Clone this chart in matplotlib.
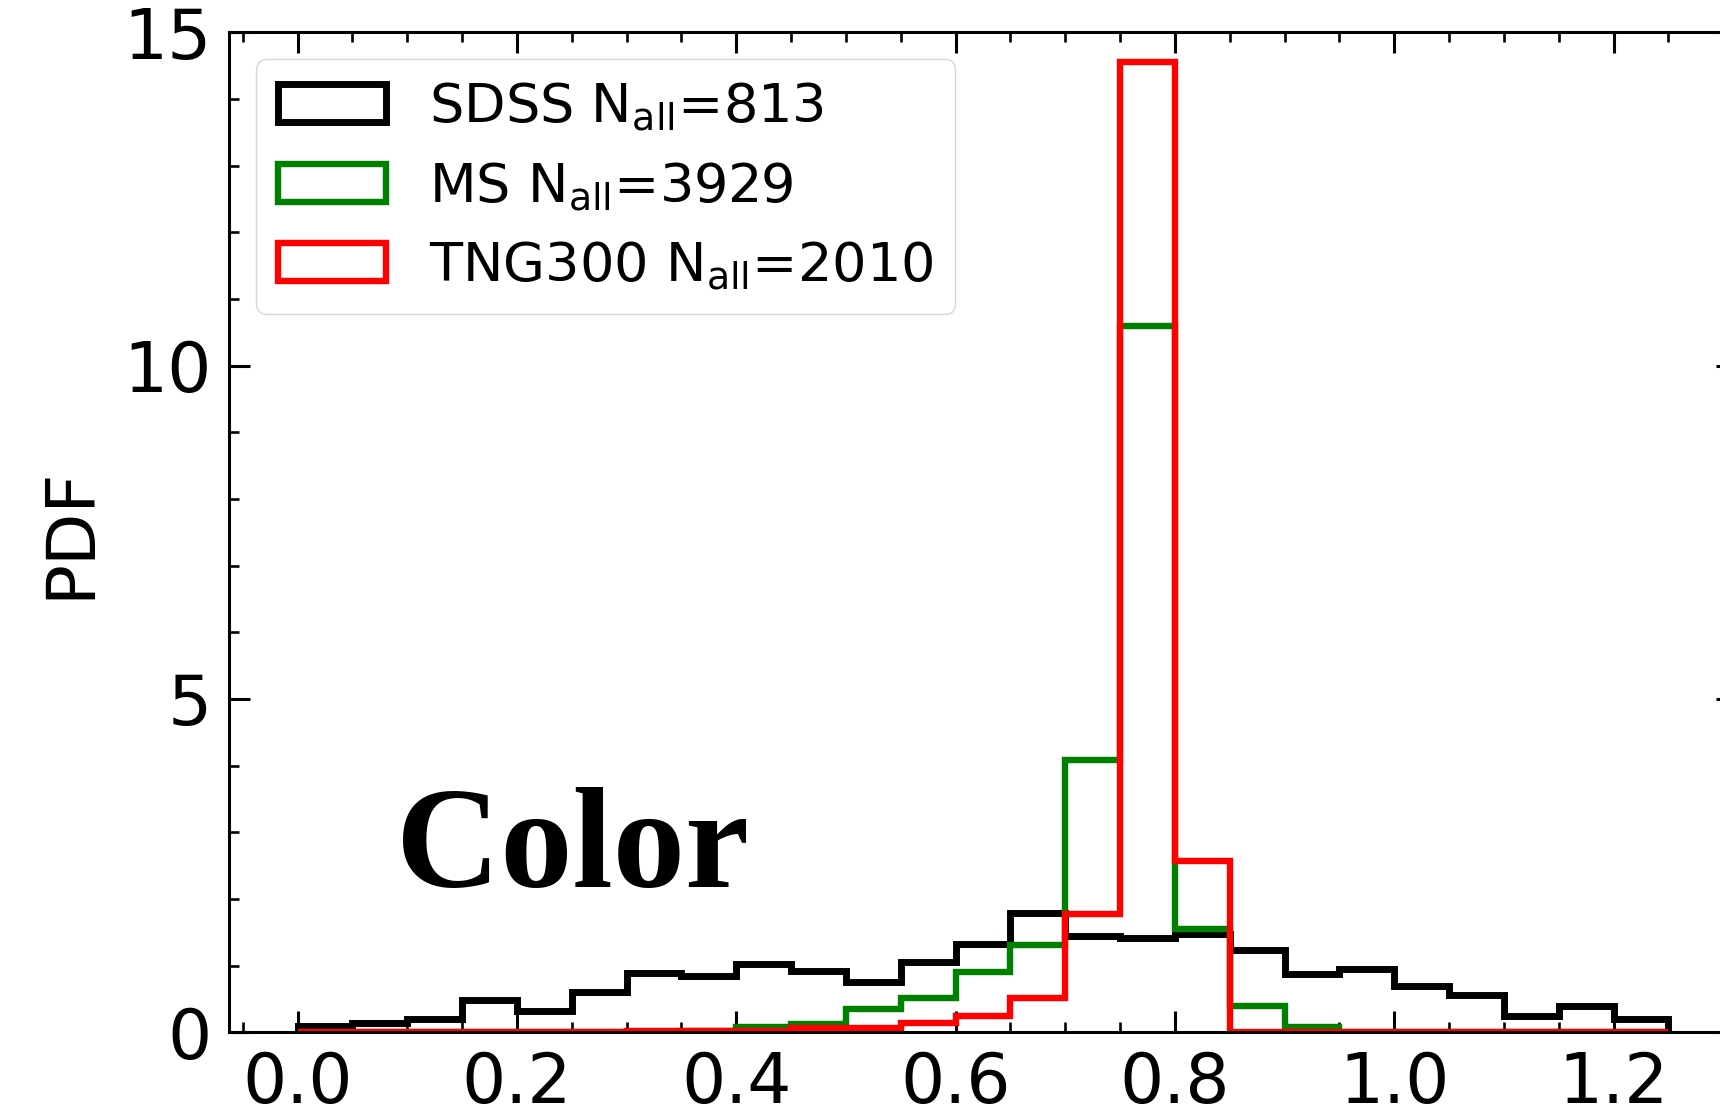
import numpy as np
import matplotlib
matplotlib.use("Agg")
import matplotlib.pyplot as plt
from matplotlib.ticker import MultipleLocator

# ---- data (PDF values per bin, bins of width 0.05 from 0.0 to 1.25) ----
bin_edges = np.linspace(0.0, 1.25, 26)
bin_centers = 0.5 * (bin_edges[:-1] + bin_edges[1:])

sdss_pdf = [0.09, 0.14, 0.20, 0.49, 0.32, 0.61, 0.89, 0.84, 1.02, 0.92,
            0.76, 1.06, 1.33, 1.79, 1.44, 1.42, 1.47, 1.24, 0.87, 0.95,
            0.70, 0.56, 0.24, 0.40, 0.20]
ms_pdf = [0.0, 0.0, 0.0, 0.0, 0.0, 0.005, 0.01, 0.015, 0.075, 0.125,
          0.355, 0.51, 0.905, 1.31, 4.09, 10.60, 1.545, 0.395, 0.075, 0.01,
          0.0, 0.0, 0.0, 0.0, 0.0]
tng_pdf = [0.0, 0.0, 0.0, 0.0, 0.0, 0.0, 0.025, 0.025, 0.025, 0.065,
           0.065, 0.135, 0.245, 0.515, 1.78, 14.55, 2.57, 0.0, 0.0, 0.0,
           0.0, 0.0, 0.0, 0.0, 0.0]

labels = [r'SDSS N$_{\rm all}$=813', r'MS N$_{\rm all}$=3929',
          r'TNG300 N$_{\rm all}$=2010']
colors = ['black', 'green', 'red']
x_ticks = [0.0, 0.2, 0.4, 0.6, 0.8, 1.0, 1.2]
y_ticks = [0, 5, 10, 15]
panel_label = 'Color'

plt.rcParams['font.family'] = ['DejaVu Sans']
plt.rcParams['mathtext.fontset'] = 'dejavusans'

W, H = 1720, 1119
fig = plt.figure(figsize=(W / 100, H / 100), dpi=100)
ax = fig.add_axes([229 / W, 1 - 1032.3 / H, 1508 / W, 1000 / H])

series = [sdss_pdf, ms_pdf, tng_pdf]
lws = [5.0, 4.6, 4.6]
for vals, lab, col, lw in zip(series, labels, colors, lws):
    ax.hist(bin_centers, bins=bin_edges, weights=vals, histtype='step',
            color=col, lw=lw, label=lab)

ax.set_xlim(-0.0625, 1.3125)
ax.set_ylim(0, 15)
ax.set_xticks(x_ticks)
ax.set_xticklabels([f'{t:.1f}' for t in x_ticks])
ax.set_yticks(y_ticks)
ax.xaxis.set_minor_locator(MultipleLocator(0.05))
ax.yaxis.set_minor_locator(MultipleLocator(1))

for s in ax.spines.values():
    s.set_linewidth(2.2)

ax.tick_params(which='both', direction='in', top=True, right=True,
               labelsize=50, pad=12.5)
ax.tick_params(which='major', length=15, width=2.2)
ax.tick_params(which='minor', length=7, width=1.9)

ax.set_ylabel('PDF', fontsize=49, labelpad=14)

ax.legend(loc='upper left', fontsize=39)

ax.text(0.111, 0.1457, panel_label, transform=ax.transAxes,
        fontsize=104, fontweight='bold',
        family=['Liberation Serif', 'DejaVu Serif'],
        ha='left', va='baseline')

fig.savefig('out.png', dpi=100)
